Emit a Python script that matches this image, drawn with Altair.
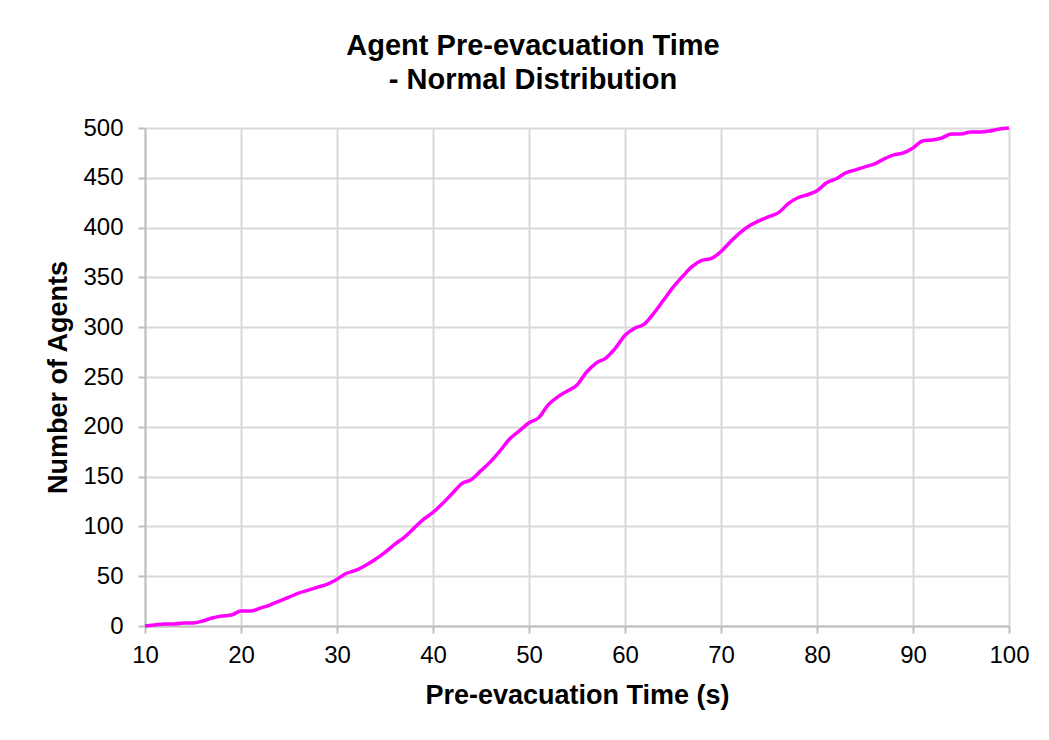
import altair as alt
import pandas as pd

times = list(range(10, 101))
agents = [0, 1, 2, 2, 3, 3, 5, 8, 10, 11,
          15, 15, 18, 21, 25, 29, 33, 36, 39, 42,
          47, 53, 56, 61, 67, 74, 82, 89, 98, 107,
          114, 123, 133, 143, 147, 156, 165, 176, 188, 196,
          204, 209, 222, 230, 236, 242, 255, 264, 269, 279,
          292, 299, 303, 314, 327, 340, 351, 361, 367, 369,
          376, 386, 395, 402, 407, 411, 415, 424, 430, 433,
          437, 445, 449, 455, 458, 461, 464, 469, 473, 475,
          480, 487, 488, 490, 494, 494, 496, 496, 497, 499,
          500]

x_ticks = list(range(10, 101, 10))
y_ticks = list(range(0, 501, 50))

df = pd.DataFrame({"t": times, "n": agents})

FONT = "Liberation Sans"

common_axis = dict(labelFontSize=24, labelFont=FONT, labelColor="#000000",
                   titleFont=FONT, titleFontSize=27, titleFontWeight="bold",
                   titleColor="#000000", tickSize=7, tickColor="#bfbfbf",
                   domainColor="#bfbfbf", domainWidth=2, tickWidth=2,
                   gridColor="#d9d9d9", gridWidth=2, labelFlush=False,
                   labelOverlap=False, format="d")

chart = alt.Chart(df).mark_line(color="#ff00ff", strokeWidth=3.5, interpolate="monotone").encode(
    x=alt.X("t:Q",
            scale=alt.Scale(domain=[10, 100], nice=False, zero=False),
            axis=alt.Axis(values=x_ticks, title="Pre-evacuation Time (s)",
                          labelPadding=10, titlePadding=15, **common_axis)),
    y=alt.Y("n:Q",
            scale=alt.Scale(domain=[0, 500], nice=False),
            axis=alt.Axis(values=y_ticks, title="Number of Agents",
                          labelPadding=15, titlePadding=10, **common_axis)),
).properties(
    width=864,
    height=498,
    title=alt.TitleParams(["Agent Pre-evacuation Time", "- Normal Distribution"],
                          font=FONT, fontSize=29, fontWeight="bold", color="#000000",
                          anchor="middle", lineHeight=34, offset=21, dx=-44),
    autosize=alt.AutoSizeParams(type="none"),
    padding={"left": 137, "top": 120, "right": 32, "bottom": 98},
).configure_view(stroke=None).configure(background="#ffffff")

chart.save("out.html", embed_options={"renderer": "svg", "actions": False})
